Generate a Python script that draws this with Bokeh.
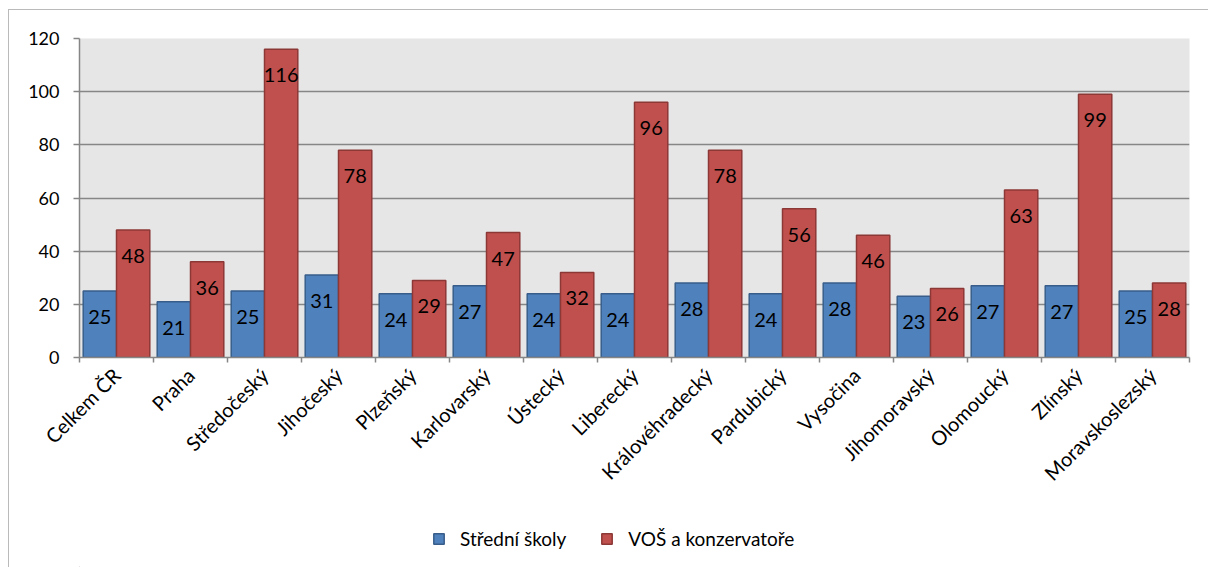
import math
from bokeh.plotting import figure
from bokeh.layouts import column
from bokeh.models import (Range1d, FixedTicker, ColumnDataSource, LabelSet,
                          Legend, LegendItem)
from bokeh.core.properties import value
from bokeh.embed import file_html
from bokeh.resources import INLINE

categories = ["Celkem ČR", "Praha", "Středočeský", "Jihočeský", "Plzeňský",
              "Karlovarský", "Ústecký", "Liberecký", "Královéhradecký",
              "Pardubický", "Vysočina", "Jihomoravský", "Olomoucký",
              "Zlínský", "Moravskoslezský"]
stredni_skoly = [25, 21, 25, 31, 24, 27, 24, 24, 28, 24, 28, 23, 27, 27, 25]
vos_konzervatore = [48, 36, 116, 78, 29, 47, 32, 96, 78, 56, 46, 26, 63, 99, 28]
series_names = ["Střední školy", "VOŠ a konzervatoře"]
y_ticks = [0, 20, 40, 60, 80, 100, 120]

FONT = "Lato"
BLUE, BLUE_LINE = "#4f81bd", "#385d8a"
RED, RED_LINE = "#c0504d", "#8c3836"
GRAY = "#868686"
W = 1199

n = len(categories)
centers = [i + 0.5 for i in range(n)]
bw = 0.45
src = ColumnDataSource(dict(
    xb=[c - bw / 2 for c in centers],
    xr=[c + bw / 2 for c in centers],
    b=stredni_skoly, r=vos_konzervatore,
    bl=[str(v) for v in stredni_skoly],
    rl=[str(v) for v in vos_konzervatore],
))

p = figure(width=W, height=487, output_backend="svg", toolbar_location=None,
           x_range=Range1d(0, n), y_range=Range1d(0, 120))
p.min_border_left = 70
p.min_border_right = 19
p.min_border_top = 28
p.min_border_bottom = 140
p.outline_line_color = None
p.background_fill_color = "#e6e6e6"
p.border_fill_color = "white"

rb = p.vbar(x="xb", top="b", width=bw, source=src, fill_color=BLUE,
            line_color=BLUE_LINE, line_width=1.5)
rr = p.vbar(x="xr", top="r", width=bw, source=src, fill_color=RED,
            line_color=RED_LINE, line_width=1.5)

for col, xcol, ycol in (("bl", "xb", "b"), ("rl", "xr", "r")):
    p.add_layout(LabelSet(x=xcol, y=ycol, text=col, source=src, y_offset=-26,
                          text_align="center", text_baseline="middle",
                          text_font=value(FONT), text_font_size="20px",
                          text_color="black"))

# grid
p.xgrid.grid_line_color = None
p.ygrid.grid_line_color = GRAY
p.ygrid.grid_line_width = 1.5
p.ygrid.ticker = FixedTicker(ticks=y_ticks)

# y axis
p.yaxis.ticker = FixedTicker(ticks=y_ticks)
p.yaxis.axis_line_color = GRAY
p.yaxis.axis_line_width = 1.5
p.yaxis.major_tick_line_color = GRAY
p.yaxis.major_tick_line_width = 1.5
p.yaxis.major_tick_out = 6
p.yaxis.major_tick_in = 0
p.yaxis.minor_tick_line_color = None
p.yaxis.major_label_text_font = FONT
p.yaxis.major_label_text_font_size = "18px"
p.yaxis.major_label_text_color = "black"
p.yaxis.major_label_standoff = 14

# x axis
p.xaxis.ticker = FixedTicker(ticks=centers, minor_ticks=list(range(n + 1)))
p.xaxis.major_label_overrides = {c: lab for c, lab in zip(centers, categories)}
p.xaxis.axis_line_color = GRAY
p.xaxis.axis_line_width = 1.5
p.xaxis.major_tick_line_color = None
p.xaxis.minor_tick_line_color = GRAY
p.xaxis.minor_tick_line_width = 1.5
p.xaxis.minor_tick_out = 5
p.xaxis.minor_tick_in = 0
p.xaxis.major_label_orientation = math.pi / 4
p.xaxis.major_label_text_font = FONT
p.xaxis.major_label_text_font_size = "20px"
p.xaxis.major_label_text_color = "black"
p.xaxis.major_label_standoff = 8

# legend strip below the chart
pl = figure(width=W, height=70, output_backend="svg", toolbar_location=None,
            x_range=Range1d(0, 1), y_range=Range1d(0, 1),
            x_axis_location=None, y_axis_location=None,
            min_border=0, outline_line_color=None)
pl.grid.visible = False
lb = pl.vbar(x=[-100], top=[-100], bottom=[-101], width=0.1, fill_color=BLUE,
             line_color=BLUE_LINE, line_width=1.5)
lr = pl.vbar(x=[-100], top=[-100], bottom=[-101], width=0.1, fill_color=RED,
             line_color=RED_LINE, line_width=1.5)
legend = Legend(items=[LegendItem(label=series_names[0], renderers=[lb]),
                       LegendItem(label=series_names[1], renderers=[lr])],
                orientation="horizontal", location=(353, 17),
                border_line_color=None, background_fill_alpha=0,
                glyph_width=13, glyph_height=13, label_height=13,
                label_standoff=15, spacing=34, padding=0, margin=0,
                label_text_font=FONT, label_text_font_size="19px",
                label_text_color="black")
pl.add_layout(legend)

layout = column(p, pl, spacing=0,
                styles={"border-left": "1px solid #bababa",
                        "border-top": "1px solid #bababa",
                        "margin-top": "9px", "margin-left": "8px"})

open("out.html", "w").write(file_html(layout, INLINE))
